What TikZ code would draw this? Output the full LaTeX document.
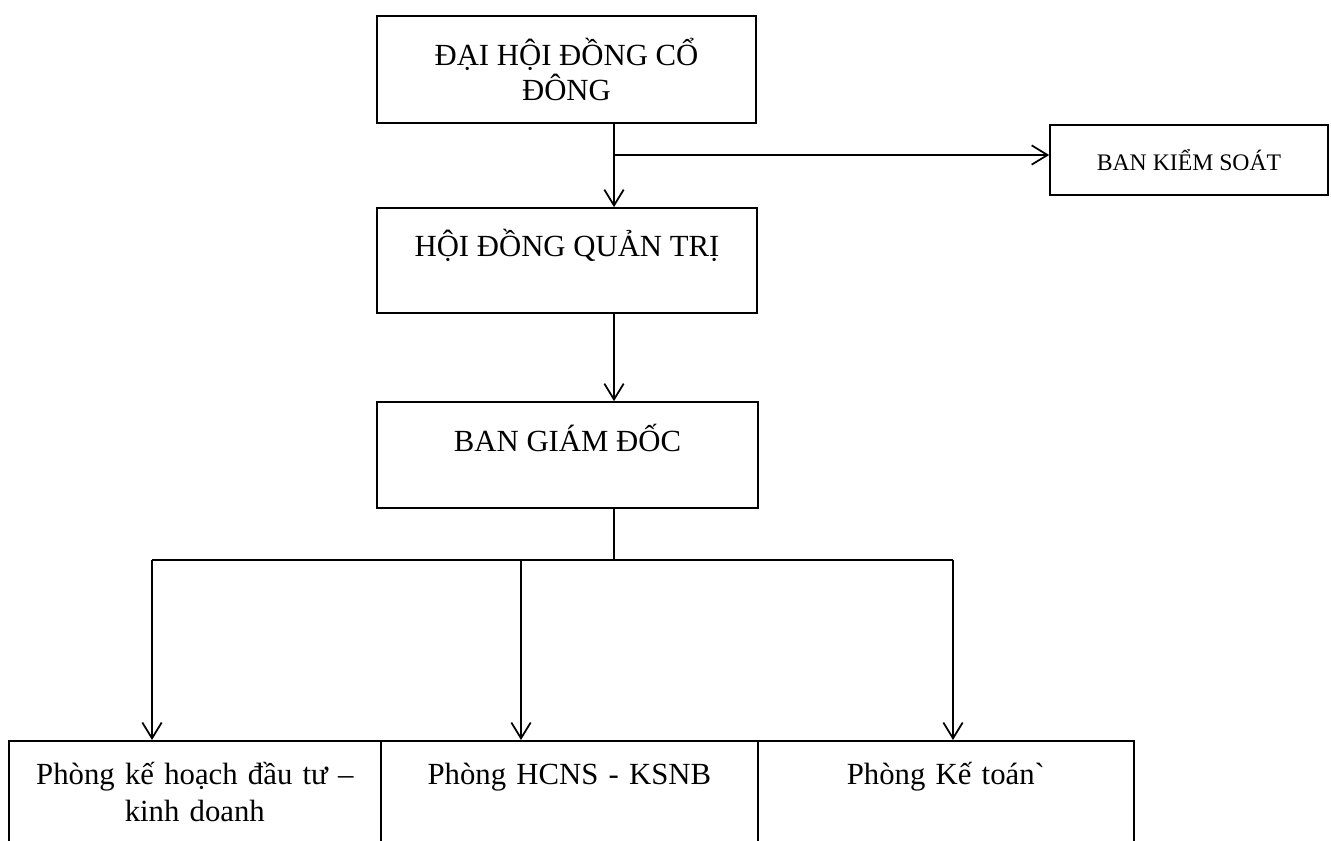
\documentclass[tikz,border=0pt]{standalone}
\usepackage{fontspec}
\setmainfont{Liberation Serif}
\usetikzlibrary{arrows.meta}

\begin{document}
\begin{tikzpicture}[x=0.02cm,y=-0.02cm,line width=1pt,
  >={Straight Barb[length=9pt,width=11pt]},
  box/.style={draw,align=center,inner sep=0pt,font=\fontsize{17.5}{20}\selectfont},
  dept/.style={draw,anchor=north west,align=center,inner xsep=0pt,inner ysep=0pt,
    text height=25pt,text depth=3cm,font=\fontsize{17.5}{21}\selectfont}]
\useasboundingbox (0,0) rectangle (1331,840);
\clip (0,0) rectangle (1331,840);
\node[box,minimum width=7.58cm,minimum height=2.14cm] (dhcd) at (566.5,69.5) {ĐẠI HỘI ĐỒNG CỔ\\ĐÔNG};
\node[box,minimum width=7.6cm,minimum height=2.1cm] (hdqt) at (567,260.5) {HỘI ĐỒNG QUẢN TRỊ\\\mbox{}};
\node[box,minimum width=7.62cm,minimum height=2.12cm] (bgd) at (567.5,455) {BAN GIÁM ĐỐC\\\mbox{}};
\node[box,minimum width=5.56cm,minimum height=1.4cm,font=\fontsize{13.5}{16}\selectfont] (bks) at (1189,160) {BAN KIỂM SOÁT};
\node[dept,text width=7.44cm] (kh) at (8,740) {Phòng kế hoạch đầu tư --\\kinh doanh};
\node[dept,text width=7.54cm] (hcns) at (380,740) {Phòng HCNS - KSNB};
\node[dept,text width=7.52cm] (kt) at (757,740) {Phòng Kế toán\textasciigrave};
\coordinate (spine) at (614,0);
\coordinate (tap) at (614,155);
\draw[->] (dhcd.south -| spine) -- (hdqt.north -| spine);
\draw[->] (tap) -- (tap -| bks.west);
\draw[->] (hdqt.south -| spine) -- (bgd.north -| spine);
\coordinate (fork) at (614,560);
\coordinate (b1) at (152,560);
\coordinate (b2) at (521,560);
\coordinate (b3) at (953,560);
\draw (bgd.south -| spine) -- (fork);
\draw (b1) -- (b3);
\foreach \b/\d in {b1/kh,b2/hcns,b3/kt}
  \draw[->] (\b) -- (\b |- \d.north);
\end{tikzpicture}
\end{document}
